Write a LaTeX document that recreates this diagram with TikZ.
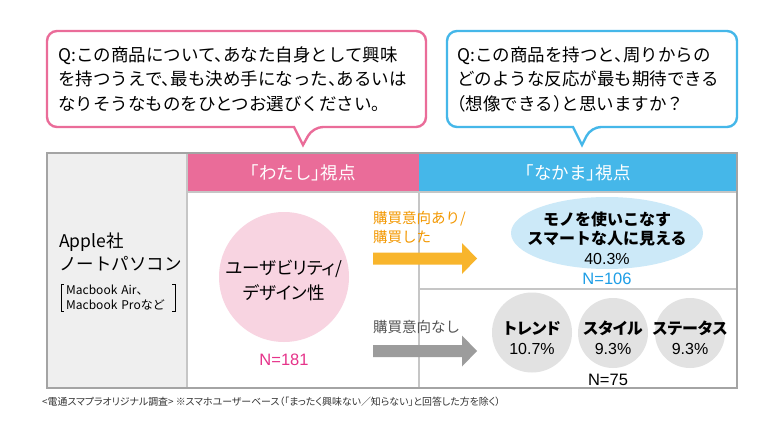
\documentclass[tikz,border=0pt]{standalone}
\usepackage{fontspec}
\setmainfont{Noto Sans CJK JP}
\newfontfamily\qfont{Noto Sans CJK JP}[RawFeature=+halt]
\newfontfamily\paltfont{Noto Sans CJK JP}[RawFeature=+palt]
\newfontfamily\numfont{Liberation Sans}
\usetikzlibrary{positioning,shapes.geometric}

\definecolor{wpink}{HTML}{EA6C99}
\definecolor{nblue}{HTML}{45B7E9}
\definecolor{lpink}{HTML}{F8D4E1}
\definecolor{lblue}{HTML}{CCE9F8}
\definecolor{lgray}{HTML}{E2E2E2}
\definecolor{cellgray}{HTML}{EFEFEF}
\definecolor{framegray}{HTML}{A4A4A4}
\definecolor{gridgray}{HTML}{C6C6C6}
\definecolor{buyorange}{HTML}{F39800}
\definecolor{arroworange}{HTML}{F8B52C}
\definecolor{arrowgray}{HTML}{9C9C9C}
\definecolor{routegray}{HTML}{555555}
\definecolor{numpink}{HTML}{E6338A}
\definecolor{numblue}{HTML}{1E9EE6}
\definecolor{notegray}{HTML}{333333}

\begin{document}
\begin{tikzpicture}[x=1pt, y=-1pt,
        balloon/.style = {line width=2.4pt, rounded corners=10pt, fill=white},
        question/.style = {anchor=west, align=left, inner sep=0pt, font=\qfont\fontsize{17.5}{24.5}\selectfont},
        header/.style = {minimum height=39pt, inner sep=0pt, text=white, font=\qfont\fontsize{17.5}{20}\selectfont},
        gridline/.style = {draw=gridgray, line width=1.2pt},
        brand/.style = {anchor=west, align=left, inner sep=0pt, font=\fontsize{17.5}{23}\selectfont},
        models/.style = {anchor=west, align=left, inner xsep=5pt, inner ysep=0.5pt, font=\fontsize{12}{15}\selectfont},
        bracket/.style = {line width=0.9pt},
        answer/.style = {align=center, inner sep=0pt, font=\paltfont\fontsize{17.5}{25}\selectfont},
        pick/.style = {align=center, inner sep=0pt, font=\paltfont\bfseries\fontsize{16}{20}\selectfont},
        count/.style = {inner sep=0pt, font=\numfont\fontsize{16.5}{20}\selectfont},
        route/.style = {anchor=west, align=left, inner sep=0pt, font=\fontsize{14.5}{19}\selectfont}
    ]
    \useasboundingbox (0,0) rectangle (784,441);
    \fill[white] (0,0) rectangle (784,441);

    % question balloons
    \draw[balloon, draw=wpink] (294,127) -- (47,127) -- (47,31) -- (426,31) -- (426,127) -- (313,127) [sharp corners] -- (303,145) -- cycle;
    \draw[balloon, draw=nblue] (573,127) -- (447,127) -- (447,31) -- (737,31) -- (737,127) -- (591,127) [sharp corners] -- (582,145) -- cycle;
    \node[question] (q1) at (58,79) {Q:この商品について、あなた自身として興味\\を持つうえで、最も決め手になった、あるいは\\なりそうなものをひとつお選びください。};
    \node[question] (q2) at (457,79) {Q:この商品を持つと、周りからの\\どのような反応が最も期待できる\\（想像できる）と思いますか？};

    % table
    \fill[cellgray] (47,153) rectangle (187,388);
    \node[header, fill=wpink, minimum width=232pt] (watashi) at (303,172.5) {「わたし」視点};
    \node[header, fill=nblue, minimum width=318pt] (nakama) at (578,172.5) {「なかま」視点};
    \draw[gridline] (187,153) -- (187,388) (419,192) -- (419,388) (187,192) -- (737,192) (419,289) -- (737,289);
    \draw[framegray, line width=1.3pt] (47,153) rectangle (737,388);

    \node[brand] (product) at (59,252) {Apple社\\ノートパソコン};
    \node[models, text width=104pt] (macbook) at (61,298) {Macbook~Air、\\Macbook~Proなど};
    \draw[bracket] ([xshift=3pt]macbook.north west) -- (macbook.north west) -- (macbook.south west) -- ++(3,0);
    \draw[bracket] ([xshift=-3pt]macbook.north east) -- (macbook.north east) -- (macbook.south east) -- ++(-3,0);

    % watashi
    \node[circle, fill=lpink, minimum size=130pt] (usability) at (284,277) {};
    \node[answer] (usabilitytext) at ([yshift=-3.5pt]usability.center) {ユーザビリティ/\\デザイン性};
    \node[count, text=numpink] (n181) at (284,360) {N=181};

    % nakama
    \node[route, text=buyorange] (buy) at (373,227.5) {購買意向あり/\\購買した};
    \node[route, text=routegray] (nobuy) at (373,327) {購買意向なし};
    \foreach \ay/\col in {258.5/arroworange, 351/arrowgray}
        \fill[\col] (373,\ay-6) -- (462,\ay-6) -- (462,\ay-15.5) -- (477,\ay) -- (462,\ay+15.5) -- (462,\ay+6) -- (373,\ay+6) -- cycle;

    \node[ellipse, fill=lblue, minimum width=192pt, minimum height=72pt] (smart) at (607,233) {};
    \node[pick, font=\bfseries\fontsize{16}{19.5}\selectfont] (smarttext) at ([yshift=-5pt]smart.center) {モノを使いこなす\\スマートな人に見える\\{\numfont\mdseries 40.3\%}};
    \node[count, text=numblue] (n106) at (607,279) {N=106};

    \node[circle, fill=lgray, minimum size=80pt] (trend) at (532,332.5) {};
    \node[circle, fill=lgray, minimum size=70pt] (style) at (613,333) {};
    \node[circle, fill=lgray, minimum size=70pt] (status) at (690,333) {};
    \node[pick] (trendtext) at ([yshift=-6pt]trend.center) {トレンド\\{\numfont\mdseries 10.7\%}};
    \node[pick] (styletext) at ([yshift=-5pt]style.center) {スタイル\\{\numfont\mdseries 9.3\%}};
    \node[pick] (statustext) at ([yshift=-5pt]status.center) {ステータス\\{\numfont\mdseries 9.3\%}};
    \node[count] (n75) at (608,380) {N=75};

    % note
    \node[anchor=west, inner sep=0pt, text=notegray, font=\paltfont\fontsize{9.9}{12}\selectfont] (note) at (42,402) {<電通スマプラオリジナル調査> ※スマホユーザーベース（「まったく興味ない／知らない」と回答した方を除く）};
\end{tikzpicture}
\end{document}
